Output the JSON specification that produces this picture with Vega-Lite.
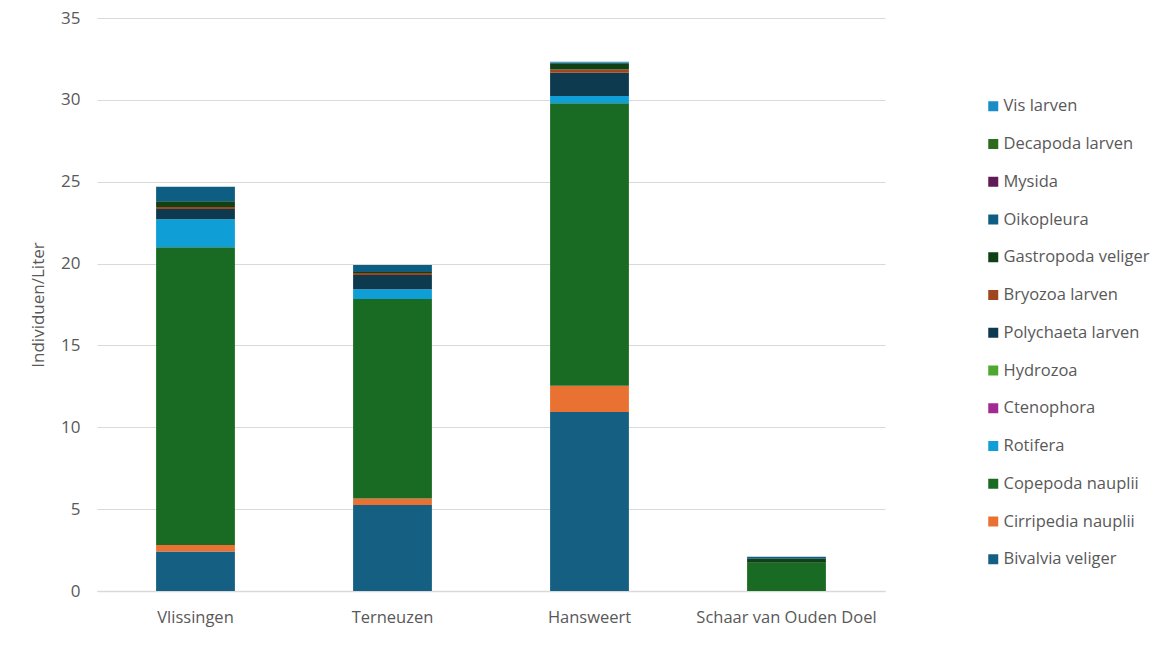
{
  "$schema": "https://vega.github.io/schema/vega-lite/v6.json",
  "width": 788,
  "height": 573,
  "padding": {"left": 97, "top": 18, "right": 288, "bottom": 62},
  "autosize": {"type": "none"},
  "background": "white",
  "data": {"values": [
    {"site": "Vlissingen", "species": "Bivalvia veliger", "value": 2.42},
    {"site": "Vlissingen", "species": "Cirripedia nauplii", "value": 0.39},
    {"site": "Vlissingen", "species": "Copepoda nauplii", "value": 18.18},
    {"site": "Vlissingen", "species": "Rotifera", "value": 1.71},
    {"site": "Vlissingen", "species": "Polychaeta larven", "value": 0.63},
    {"site": "Vlissingen", "species": "Bryozoa larven", "value": 0.12},
    {"site": "Vlissingen", "species": "Gastropoda veliger", "value": 0.35},
    {"site": "Vlissingen", "species": "Oikopleura", "value": 0.89},
    {"site": "Terneuzen", "species": "Bivalvia veliger", "value": 5.25},
    {"site": "Terneuzen", "species": "Cirripedia nauplii", "value": 0.4},
    {"site": "Terneuzen", "species": "Copepoda nauplii", "value": 12.19},
    {"site": "Terneuzen", "species": "Rotifera", "value": 0.59},
    {"site": "Terneuzen", "species": "Polychaeta larven", "value": 0.87},
    {"site": "Terneuzen", "species": "Bryozoa larven", "value": 0.12},
    {"site": "Terneuzen", "species": "Gastropoda veliger", "value": 0.06},
    {"site": "Terneuzen", "species": "Oikopleura", "value": 0.43},
    {"site": "Hansweert", "species": "Bivalvia veliger", "value": 10.93},
    {"site": "Hansweert", "species": "Cirripedia nauplii", "value": 1.61},
    {"site": "Hansweert", "species": "Copepoda nauplii", "value": 17.25},
    {"site": "Hansweert", "species": "Rotifera", "value": 0.45},
    {"site": "Hansweert", "species": "Polychaeta larven", "value": 1.42},
    {"site": "Hansweert", "species": "Bryozoa larven", "value": 0.2},
    {"site": "Hansweert", "species": "Gastropoda veliger", "value": 0.37},
    {"site": "Hansweert", "species": "Oikopleura", "value": 0.03},
    {"site": "Hansweert", "species": "Vis larven", "value": 0.07},
    {"site": "Schaar van Ouden Doel", "species": "Copepoda nauplii", "value": 1.73},
    {"site": "Schaar van Ouden Doel", "species": "Oikopleura", "value": 0.12},
    {"site": "Schaar van Ouden Doel", "species": "Gastropoda veliger", "value": 0.24}
  ]},
  "transform": [
    {"calculate": "indexof(['Bivalvia veliger','Cirripedia nauplii','Copepoda nauplii','Rotifera','Ctenophora','Hydrozoa','Polychaeta larven','Bryozoa larven','Gastropoda veliger','Oikopleura','Mysida','Decapoda larven','Vis larven'], datum.species)", "as": "rank"}
  ],
  "mark": {"type": "bar"},
  "encoding": {
    "x": {
      "field": "site", "type": "nominal",
      "sort": ["Vlissingen", "Terneuzen", "Hansweert", "Schaar van Ouden Doel"],
      "scale": {"paddingInner": 0.6, "paddingOuter": 0.3},
      "axis": {"title": null, "labelAngle": 0, "ticks": false, "domainColor": "#d9d9d9", "domainWidth": 1.5, "labelColor": "#595959", "labelFontSize": 16.5, "labelPadding": 18, "labelFont": "Open Sans", "labelLimit": 400}
    },
    "y": {
      "field": "value", "type": "quantitative", "aggregate": "sum", "stack": "zero",
      "scale": {"domain": [0, 35], "nice": false},
      "axis": {"title": "Individuen/Liter", "values": [0, 5, 10, 15, 20, 25, 30, 35], "domain": false, "ticks": false, "gridColor": "#d9d9d9", "labelColor": "#595959", "labelFontSize": 17, "labelPadding": 17, "labelFont": "Open Sans", "titleColor": "#595959", "titleFontSize": 17, "titleFontWeight": "normal", "titleFont": "Open Sans", "titlePadding": 13}
    },
    "order": {"field": "rank", "type": "quantitative", "sort": "ascending"},
    "color": {
      "field": "species", "type": "nominal",
      "scale": {
        "domain": ["Vis larven", "Decapoda larven", "Mysida", "Oikopleura", "Gastropoda veliger", "Bryozoa larven", "Polychaeta larven", "Hydrozoa", "Ctenophora", "Rotifera", "Copepoda nauplii", "Cirripedia nauplii", "Bivalvia veliger"],
        "range": ["#1B8DC6", "#2E6B1E", "#601A56", "#0E5E84", "#0F4016", "#A0461E", "#0D3A4F", "#4EA72E", "#A02B93", "#0F9ED5", "#196B24", "#E97132", "#156082"]
      },
      "legend": {
        "title": null, "orient": "none", "legendX": 888, "legendY": 80,
        "symbolType": "square", "symbolSize": 100, "symbolStrokeWidth": 0,
        "rowPadding": 20.75, "labelFontSize": 16.5, "labelColor": "#595959", "labelFont": "Open Sans", "labelOffset": 2, "labelLimit": 300
      }
    }
  },
  "config": {"view": {"stroke": null}}
}
